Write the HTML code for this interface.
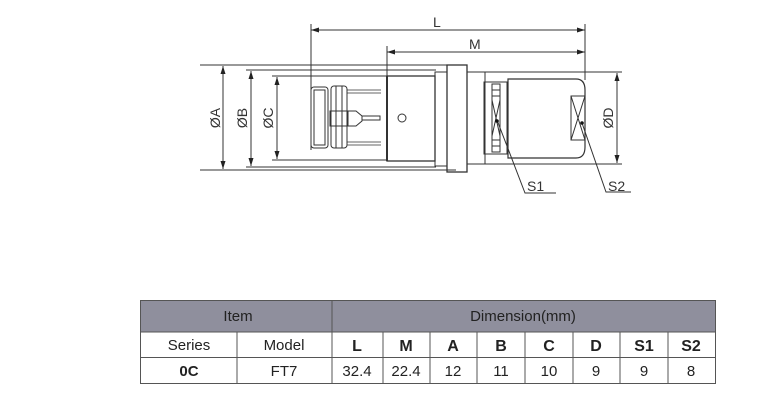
<!DOCTYPE html>
<html><head><style>
body{margin:0;background:#fff;width:771px;height:403px;overflow:hidden;font-family:"Liberation Sans",sans-serif}
</style></head><body>
<svg width="771" height="403" viewBox="0 0 771 403" xmlns="http://www.w3.org/2000/svg" font-family="Liberation Sans, sans-serif">
<defs>
<marker id="a" markerWidth="8" markerHeight="6" refX="8" refY="3" orient="auto-start-reverse" markerUnits="userSpaceOnUse"><path d="M0,0.5 L8,3 L0,5.5 Z" fill="#222"/></marker>
</defs>
<g stroke="#333" stroke-width="1" fill="none">
<line x1="311" y1="24" x2="311" y2="150"/>
<line x1="585" y1="24" x2="585" y2="80"/>
<line x1="387" y1="46" x2="387" y2="78"/>
<line x1="200" y1="65" x2="456" y2="65"/>
<line x1="200" y1="170" x2="456" y2="170"/>
<line x1="246" y1="70" x2="436" y2="70"/>
<line x1="246" y1="167" x2="436" y2="167"/>
<line x1="272" y1="76" x2="387" y2="76"/>
<line x1="272" y1="160" x2="387" y2="160"/>
<line x1="485" y1="72" x2="622" y2="72"/>
<line x1="485" y1="164" x2="622" y2="164"/>
<line x1="311" y1="30" x2="585" y2="30" marker-start="url(#a)" marker-end="url(#a)"/>
<line x1="387" y1="52" x2="585" y2="52" marker-start="url(#a)" marker-end="url(#a)"/>
<line x1="223" y1="66" x2="223" y2="169" marker-start="url(#a)" marker-end="url(#a)"/>
<line x1="251" y1="71" x2="251" y2="166" marker-start="url(#a)" marker-end="url(#a)"/>
<line x1="277" y1="77" x2="277" y2="159" marker-start="url(#a)" marker-end="url(#a)"/>
<line x1="617" y1="73" x2="617" y2="163" marker-start="url(#a)" marker-end="url(#a)"/>
<rect x="387" y="76" width="48" height="85" stroke-width="1.3"/>
<line x1="387" y1="76" x2="387" y2="161" stroke-width="2"/>
<rect x="435" y="72" width="12" height="94"/>
<rect x="447" y="65" width="20" height="107" stroke-width="1.3"/>
<rect x="467" y="72" width="18" height="92"/>
<rect x="484" y="82" width="23" height="72"/>
<rect x="492" y="84" width="8" height="68"/>
<path d="M492,90h8M492,96h8M492,140h8M492,146h8M492,100L500,136M500,100L492,136"/>
<path d="M508,79 H576 Q585,79 585,90 V147 Q585,158 576,158 H508 Z" stroke-width="1.2"/>
<rect x="571" y="96" width="14" height="44"/>
<path d="M571,96 L585,140 M585,96 L571,140"/>
<circle cx="402" cy="118" r="4"/>
<rect x="311" y="87" width="17" height="61" rx="3"/>
<rect x="314" y="90" width="11" height="55"/>
<rect x="331" y="86" width="16" height="62" rx="3"/>
<line x1="336" y1="86" x2="336" y2="148"/>
<line x1="342" y1="86" x2="342" y2="148"/>
<path d="M347,90 H381 M347,145 H381 M347,93 H381 M347,142 H381" stroke-width="0.8"/>
<rect x="330" y="111" width="18" height="15"/>
<path d="M348,111 H356 L362,116 V121 L356,126 H348"/>
<rect x="362" y="116" width="18" height="4"/>
<path d="M497,120 L525,193 H556"/>
<path d="M582,123 L606,192 H631"/>
</g>
<circle cx="497" cy="121" r="1.8" fill="#111"/>
<circle cx="582" cy="123" r="1.8" fill="#111"/>
<g font-size="14" fill="#333">
<text x="433" y="27">L</text>
<text x="469" y="49">M</text>
<text x="527" y="191">S1</text>
<text x="608" y="191">S2</text>
<text transform="translate(220,118) rotate(-90)" text-anchor="middle">ØA</text>
<text transform="translate(247,118) rotate(-90)" text-anchor="middle">ØB</text>
<text transform="translate(273,118) rotate(-90)" text-anchor="middle">ØC</text>
<text transform="translate(613,118) rotate(-90)" text-anchor="middle">ØD</text>
</g>
<rect x="140" y="300" width="575" height="32" fill="#8f8f9d"/>
<g stroke="#555" stroke-width="1" fill="none">
<rect x="140.5" y="300.5" width="575" height="83"/>
<line x1="140" y1="332" x2="715" y2="332"/>
<line x1="140" y1="357.5" x2="715" y2="357.5"/>
<line x1="332" y1="300" x2="332" y2="383"/>
<line x1="237" y1="332" x2="237" y2="383"/>
<line x1="383" y1="332" x2="383" y2="383"/>
<line x1="430" y1="332" x2="430" y2="383"/>
<line x1="477" y1="332" x2="477" y2="383"/>
<line x1="525" y1="332" x2="525" y2="383"/>
<line x1="573" y1="332" x2="573" y2="383"/>
<line x1="620" y1="332" x2="620" y2="383"/>
<line x1="668" y1="332" x2="668" y2="383"/>
</g>
<g font-size="15" fill="#222" text-anchor="middle">
<text x="238" y="321">Item</text>
<text x="523" y="321">Dimension(mm)</text>
<text x="189" y="350">Series</text>
<text x="284" y="350">Model</text>
<g font-weight="bold" font-size="16">
<text x="357" y="351">L</text><text x="406" y="351">M</text><text x="453" y="351">A</text>
<text x="501" y="351">B</text><text x="549" y="351">C</text><text x="596" y="351">D</text>
<text x="644" y="351">S1</text><text x="691" y="351">S2</text>
<text x="189" y="376" font-size="15">0C</text>
</g>
<text x="284" y="376">FT7</text>
<text x="357" y="376">32.4</text><text x="406" y="376">22.4</text><text x="453" y="376">12</text>
<text x="501" y="376">11</text><text x="549" y="376">10</text><text x="596" y="376">9</text>
<text x="644" y="376">9</text><text x="691" y="376">8</text>
</g>
</svg>
</body></html>
